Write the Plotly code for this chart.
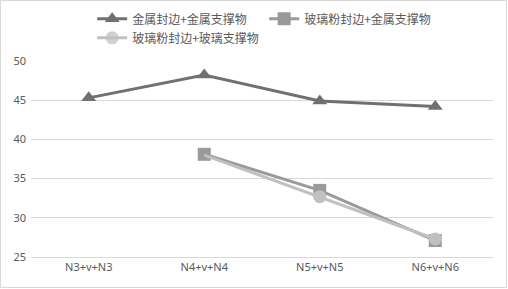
import plotly.graph_objects as go

categories = ["N3+v+N3", "N4+v+N4", "N5+v+N5", "N6+v+N6"]
names = ["金属封边+金属支撑物", "玻璃粉封边+金属支撑物", "玻璃粉封边+玻璃支撑物"]
s1 = [45.3, 48.2, 44.9, 44.2]
s2 = [None, 38.1, 33.5, 27.1]
s3 = [None, 38.0, 32.7, 27.3]

W, H = 508, 289
L, R, T, B = 31, 15, 61, 32

fig = go.Figure()
fig.add_trace(go.Scatter(x=categories, y=s1, name=names[0], mode="lines+markers",
                         line=dict(color="#707070", width=3),
                         marker=dict(symbol="triangle-up", size=13, color="#707070")))
fig.add_trace(go.Scatter(x=categories, y=s2, name=names[1], mode="lines+markers",
                         line=dict(color="#9a9a9a", width=3),
                         marker=dict(symbol="square", size=13, color="#9a9a9a")))
fig.add_trace(go.Scatter(x=categories, y=s3, name=names[2], mode="lines+markers",
                         line=dict(color="#c0c0c0", width=3),
                         marker=dict(symbol="circle", size=13, color="#c0c0c0",
                                     opacity=[1, 0, 1, 1])))

pw = W - L - R
ph = H - T - B
fig.add_shape(type="rect", xref="paper", yref="paper",
              x0=-(L - 0.5) / pw, x1=1 + (R - 1.5) / pw,
              y0=-(B - 1.5) / ph, y1=1 + (T - 0.5) / ph,
              line=dict(color="#d9d9d9", width=1), fillcolor="rgba(0,0,0,0)", layer="below")

fig.update_layout(
    width=W, height=H,
    margin=dict(l=L, r=R, t=T, b=B, autoexpand=False),
    paper_bgcolor="white", plot_bgcolor="white",
    font=dict(family="Noto Sans CJK SC, sans-serif", color="#595959", size=11),
    showlegend=True,
    legend=dict(orientation="h", xref="container", yref="container",
                x=0.52, xanchor="center", y=0.985, yanchor="top",
                font=dict(size=12, color="#595959"),
                entrywidth=127, entrywidthmode="pixels",
                itemwidth=30, tracegroupgap=0),
    xaxis=dict(type="category", range=[-0.5, 3.5], showgrid=False,
               showline=True, linecolor="#d9d9d9", linewidth=1,
               ticks="", tickfont=dict(size=11, family="Noto Sans, sans-serif")),
    yaxis=dict(range=[25, 50], dtick=5, showgrid=True, gridcolor="#d9d9d9",
               gridwidth=1, zeroline=False, showline=False, ticks="",
               ticklabelstandoff=4,
               tickfont=dict(size=11, family="Noto Sans, sans-serif")),
)

fig.write_html("out.html")
